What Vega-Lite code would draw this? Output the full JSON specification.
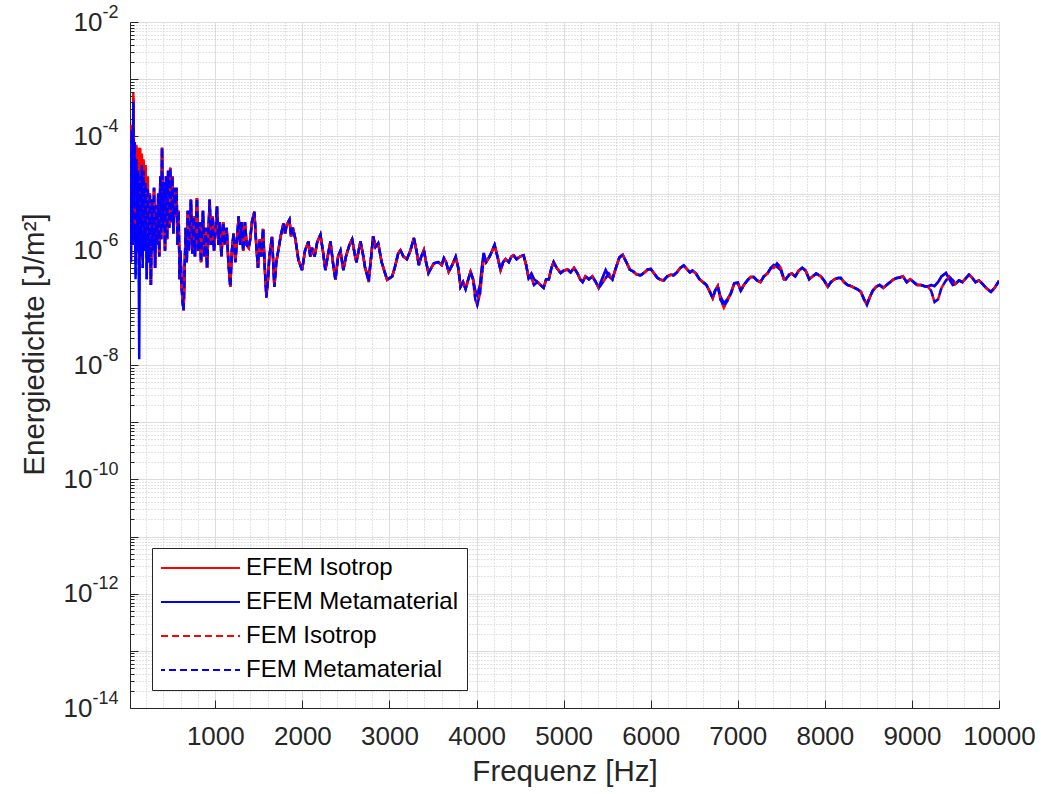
{
"$schema": "https://vega.github.io/schema/vega-lite/v6.json",
"width": 869,
"height": 686,
"autosize": {"type": "none"},
"padding": {"left": 130, "top": 22, "right": 42, "bottom": 86},
"background": "white",
"config": {
  "font": "Liberation Sans",
  "view": {"stroke": "#dddddd"},
  "axis": {"labelFont": "Liberation Sans", "titleFont": "Liberation Sans", "labelColor": "#262626", "titleColor": "#262626", "domainColor": "#262626", "tickColor": "#262626", "titleFontWeight": "normal", "labelFontSize": 26, "titleFontSize": 29.5}
},
"data": {"values": [
{"f":20,"EFEM Isotrop":5.0e-5,"EFEM Metamaterial":5.0e-5,"FEM Isotrop":5.0e-5,"FEM Metamaterial":5.0e-5},
{"f":30,"EFEM Isotrop":6.3e-7,"EFEM Metamaterial":6.3e-7,"FEM Isotrop":6.3e-7,"FEM Metamaterial":6.3e-7},
{"f":40,"EFEM Isotrop":1.58e-4,"EFEM Metamaterial":1.26e-4,"FEM Isotrop":1.58e-4,"FEM Metamaterial":1.26e-4},
{"f":50,"EFEM Isotrop":1.26e-6,"EFEM Metamaterial":1.26e-6,"FEM Isotrop":1.26e-6,"FEM Metamaterial":1.26e-6},
{"f":58,"EFEM Isotrop":5.75e-4,"EFEM Metamaterial":4.47e-4,"FEM Isotrop":5.0e-4,"FEM Metamaterial":4.0e-4},
{"f":66,"EFEM Isotrop":5.0e-5,"EFEM Metamaterial":6.3e-6,"FEM Isotrop":4.5e-5,"FEM Metamaterial":6.3e-6},
{"f":74,"EFEM Isotrop":7.1e-5,"EFEM Metamaterial":7.9e-5,"FEM Isotrop":7.1e-5,"FEM Metamaterial":7.9e-5},
{"f":84,"EFEM Isotrop":2.51e-6,"EFEM Metamaterial":3.16e-7,"FEM Isotrop":2.2e-6,"FEM Metamaterial":3.5e-7},
{"f":94,"EFEM Isotrop":7.1e-5,"EFEM Metamaterial":3.98e-5,"FEM Isotrop":6.8e-5,"FEM Metamaterial":3.98e-5},
{"f":104,"EFEM Isotrop":5.0e-6,"EFEM Metamaterial":1.0e-6,"FEM Isotrop":4.5e-6,"FEM Metamaterial":1.0e-6},
{"f":114,"EFEM Isotrop":6.3e-5,"EFEM Metamaterial":2.51e-5,"FEM Isotrop":6.0e-5,"FEM Metamaterial":2.51e-5},
{"f":126,"EFEM Isotrop":6.3e-7,"EFEM Metamaterial":1.26e-8,"FEM Isotrop":5.0e-7,"FEM Metamaterial":2.0e-7},
{"f":136,"EFEM Isotrop":6.3e-5,"EFEM Metamaterial":2.0e-5,"FEM Isotrop":6.0e-5,"FEM Metamaterial":2.0e-5},
{"f":146,"EFEM Isotrop":3.98e-6,"EFEM Metamaterial":7.9e-7,"FEM Isotrop":3.5e-6,"FEM Metamaterial":7.9e-7},
{"f":156,"EFEM Isotrop":5.0e-5,"EFEM Metamaterial":3.16e-5,"FEM Isotrop":4.8e-5,"FEM Metamaterial":3.16e-5},
{"f":166,"EFEM Isotrop":2.51e-6,"EFEM Metamaterial":5.0e-7,"FEM Isotrop":2.3e-6,"FEM Metamaterial":5.0e-7},
{"f":176,"EFEM Isotrop":3.98e-5,"EFEM Metamaterial":2.51e-5,"FEM Isotrop":3.8e-5,"FEM Metamaterial":2.51e-5},
{"f":188,"EFEM Isotrop":3.16e-6,"EFEM Metamaterial":1.0e-6,"FEM Isotrop":3.0e-6,"FEM Metamaterial":1.0e-6},
{"f":200,"EFEM Isotrop":3.16e-5,"EFEM Metamaterial":1.58e-5,"FEM Isotrop":3.0e-5,"FEM Metamaterial":1.58e-5},
{"f":212,"EFEM Isotrop":1.26e-6,"EFEM Metamaterial":3.16e-7,"FEM Isotrop":1.2e-6,"FEM Metamaterial":3.16e-7},
{"f":224,"EFEM Isotrop":2.0e-5,"EFEM Metamaterial":1.26e-5,"FEM Isotrop":1.9e-5,"FEM Metamaterial":1.26e-5},
{"f":236,"EFEM Isotrop":6.3e-7,"EFEM Metamaterial":6.3e-7,"FEM Isotrop":6.3e-7,"FEM Metamaterial":6.3e-7},
{"f":248,"EFEM Isotrop":1.0e-5,"EFEM Metamaterial":1.0e-5,"FEM Isotrop":1.0e-5,"FEM Metamaterial":1.0e-5},
{"f":260,"EFEM Isotrop":2.51e-7,"EFEM Metamaterial":2.51e-7,"FEM Isotrop":2.51e-7,"FEM Metamaterial":2.51e-7},
{"f":272,"EFEM Isotrop":7.9e-6,"EFEM Metamaterial":7.9e-6,"FEM Isotrop":7.9e-6,"FEM Metamaterial":7.9e-6},
{"f":284,"EFEM Isotrop":1.0e-6,"EFEM Metamaterial":1.0e-6,"FEM Isotrop":1.0e-6,"FEM Metamaterial":1.0e-6},
{"f":296,"EFEM Isotrop":1.26e-5,"EFEM Metamaterial":1.26e-5,"FEM Isotrop":1.26e-5,"FEM Metamaterial":1.26e-5},
{"f":308,"EFEM Isotrop":5.0e-7,"EFEM Metamaterial":5.0e-7,"FEM Isotrop":5.0e-7,"FEM Metamaterial":5.0e-7},
{"f":320,"EFEM Isotrop":6.3e-6,"EFEM Metamaterial":6.3e-6,"FEM Isotrop":6.3e-6,"FEM Metamaterial":6.3e-6},
{"f":332,"EFEM Isotrop":1.26e-6,"EFEM Metamaterial":1.26e-6,"FEM Isotrop":1.26e-6,"FEM Metamaterial":1.26e-6},
{"f":344,"EFEM Isotrop":1.0e-5,"EFEM Metamaterial":1.0e-5,"FEM Isotrop":1.0e-5,"FEM Metamaterial":1.0e-5},
{"f":356,"EFEM Isotrop":7.9e-7,"EFEM Metamaterial":7.9e-7,"FEM Isotrop":7.9e-7,"FEM Metamaterial":7.9e-7},
{"f":368,"EFEM Isotrop":2.0e-5,"EFEM Metamaterial":2.0e-5,"FEM Isotrop":2.0e-5,"FEM Metamaterial":2.0e-5},
{"f":378,"EFEM Isotrop":1.58e-6,"EFEM Metamaterial":1.58e-6,"FEM Isotrop":1.58e-6,"FEM Metamaterial":1.58e-6},
{"f":388,"EFEM Isotrop":6.3e-5,"EFEM Metamaterial":6.3e-5,"FEM Isotrop":6.3e-5,"FEM Metamaterial":6.3e-5},
{"f":398,"EFEM Isotrop":2.51e-6,"EFEM Metamaterial":2.51e-6,"FEM Isotrop":2.51e-6,"FEM Metamaterial":2.51e-6},
{"f":410,"EFEM Isotrop":1.58e-5,"EFEM Metamaterial":1.58e-5,"FEM Isotrop":1.58e-5,"FEM Metamaterial":1.58e-5},
{"f":422,"EFEM Isotrop":1.0e-6,"EFEM Metamaterial":1.0e-6,"FEM Isotrop":1.0e-6,"FEM Metamaterial":1.0e-6},
{"f":434,"EFEM Isotrop":2.0e-5,"EFEM Metamaterial":2.0e-5,"FEM Isotrop":2.0e-5,"FEM Metamaterial":2.0e-5},
{"f":446,"EFEM Isotrop":1.58e-6,"EFEM Metamaterial":1.58e-6,"FEM Isotrop":1.58e-6,"FEM Metamaterial":1.58e-6},
{"f":458,"EFEM Isotrop":2.51e-5,"EFEM Metamaterial":2.51e-5,"FEM Isotrop":2.51e-5,"FEM Metamaterial":2.51e-5},
{"f":470,"EFEM Isotrop":2.51e-6,"EFEM Metamaterial":2.51e-6,"FEM Isotrop":2.51e-6,"FEM Metamaterial":2.51e-6},
{"f":482,"EFEM Isotrop":2.82e-5,"EFEM Metamaterial":2.82e-5,"FEM Isotrop":2.82e-5,"FEM Metamaterial":2.82e-5},
{"f":494,"EFEM Isotrop":3.16e-6,"EFEM Metamaterial":3.16e-6,"FEM Isotrop":3.16e-6,"FEM Metamaterial":3.16e-6},
{"f":506,"EFEM Isotrop":2.0e-5,"EFEM Metamaterial":2.0e-5,"FEM Isotrop":2.0e-5,"FEM Metamaterial":2.0e-5},
{"f":518,"EFEM Isotrop":2.0e-6,"EFEM Metamaterial":2.0e-6,"FEM Isotrop":2.0e-6,"FEM Metamaterial":2.0e-6},
{"f":530,"EFEM Isotrop":1.26e-5,"EFEM Metamaterial":1.26e-5,"FEM Isotrop":1.26e-5,"FEM Metamaterial":1.26e-5},
{"f":542,"EFEM Isotrop":3.98e-6,"EFEM Metamaterial":3.98e-6,"FEM Isotrop":3.98e-6,"FEM Metamaterial":3.98e-6},
{"f":554,"EFEM Isotrop":1.26e-5,"EFEM Metamaterial":1.26e-5,"FEM Isotrop":1.26e-5,"FEM Metamaterial":1.26e-5},
{"f":566,"EFEM Isotrop":1.26e-6,"EFEM Metamaterial":1.26e-6,"FEM Isotrop":1.26e-6,"FEM Metamaterial":1.26e-6},
{"f":578,"EFEM Isotrop":5.0e-6,"EFEM Metamaterial":5.0e-6,"FEM Isotrop":5.0e-6,"FEM Metamaterial":5.0e-6},
{"f":590,"EFEM Isotrop":3.16e-7,"EFEM Metamaterial":3.16e-7,"FEM Isotrop":3.16e-7,"FEM Metamaterial":3.16e-7},
{"f":600,"EFEM Isotrop":1.0e-6,"EFEM Metamaterial":1.0e-6,"FEM Isotrop":1.0e-6,"FEM Metamaterial":1.0e-6},
{"f":612,"EFEM Isotrop":2.51e-7,"EFEM Metamaterial":2.51e-7,"FEM Isotrop":2.51e-7,"FEM Metamaterial":2.51e-7},
{"f":624,"EFEM Isotrop":1.26e-7,"EFEM Metamaterial":1.26e-7,"FEM Isotrop":1.26e-7,"FEM Metamaterial":1.26e-7},
{"f":636,"EFEM Isotrop":9.1e-8,"EFEM Metamaterial":9.1e-8,"FEM Isotrop":9.1e-8,"FEM Metamaterial":9.1e-8},
{"f":648,"EFEM Isotrop":5.0e-7,"EFEM Metamaterial":5.0e-7,"FEM Isotrop":5.0e-7,"FEM Metamaterial":5.0e-7},
{"f":660,"EFEM Isotrop":2.51e-6,"EFEM Metamaterial":2.51e-6,"FEM Isotrop":2.51e-6,"FEM Metamaterial":2.51e-6},
{"f":672,"EFEM Isotrop":6.3e-7,"EFEM Metamaterial":6.3e-7,"FEM Isotrop":6.3e-7,"FEM Metamaterial":6.3e-7},
{"f":684,"EFEM Isotrop":5.0e-6,"EFEM Metamaterial":5.0e-6,"FEM Isotrop":5.0e-6,"FEM Metamaterial":5.0e-6},
{"f":696,"EFEM Isotrop":1.0e-6,"EFEM Metamaterial":1.0e-6,"FEM Isotrop":1.0e-6,"FEM Metamaterial":1.0e-6},
{"f":720,"EFEM Isotrop":7.8e-6,"EFEM Metamaterial":7.8e-6,"FEM Isotrop":7.8e-6,"FEM Metamaterial":7.8e-6},
{"f":736,"EFEM Isotrop":8.9e-7,"EFEM Metamaterial":8.9e-7,"FEM Isotrop":8.9e-7,"FEM Metamaterial":8.9e-7},
{"f":752,"EFEM Isotrop":3.98e-6,"EFEM Metamaterial":3.98e-6,"FEM Isotrop":3.98e-6,"FEM Metamaterial":3.98e-6},
{"f":766,"EFEM Isotrop":7.9e-7,"EFEM Metamaterial":7.9e-7,"FEM Isotrop":7.9e-7,"FEM Metamaterial":7.9e-7},
{"f":789,"EFEM Isotrop":8.3e-6,"EFEM Metamaterial":8.3e-6,"FEM Isotrop":8.3e-6,"FEM Metamaterial":8.3e-6},
{"f":804,"EFEM Isotrop":1.0e-6,"EFEM Metamaterial":1.0e-6,"FEM Isotrop":1.0e-6,"FEM Metamaterial":1.0e-6},
{"f":820,"EFEM Isotrop":3.16e-6,"EFEM Metamaterial":3.16e-6,"FEM Isotrop":3.16e-6,"FEM Metamaterial":3.16e-6},
{"f":836,"EFEM Isotrop":6.3e-7,"EFEM Metamaterial":6.3e-7,"FEM Isotrop":6.3e-7,"FEM Metamaterial":6.3e-7},
{"f":858,"EFEM Isotrop":5.0e-6,"EFEM Metamaterial":5.0e-6,"FEM Isotrop":5.0e-6,"FEM Metamaterial":5.0e-6},
{"f":874,"EFEM Isotrop":7.9e-7,"EFEM Metamaterial":7.9e-7,"FEM Isotrop":7.9e-7,"FEM Metamaterial":7.9e-7},
{"f":890,"EFEM Isotrop":2.51e-6,"EFEM Metamaterial":2.51e-6,"FEM Isotrop":2.51e-6,"FEM Metamaterial":2.51e-6},
{"f":905,"EFEM Isotrop":5.0e-7,"EFEM Metamaterial":5.0e-7,"FEM Isotrop":5.0e-7,"FEM Metamaterial":5.0e-7},
{"f":935,"EFEM Isotrop":7.8e-6,"EFEM Metamaterial":7.8e-6,"FEM Isotrop":7.8e-6,"FEM Metamaterial":7.8e-6},
{"f":950,"EFEM Isotrop":1.26e-6,"EFEM Metamaterial":1.26e-6,"FEM Isotrop":1.26e-6,"FEM Metamaterial":1.26e-6},
{"f":965,"EFEM Isotrop":3.98e-6,"EFEM Metamaterial":3.98e-6,"FEM Isotrop":3.98e-6,"FEM Metamaterial":3.98e-6},
{"f":985,"EFEM Isotrop":1.0e-6,"EFEM Metamaterial":1.0e-6,"FEM Isotrop":1.0e-6,"FEM Metamaterial":1.0e-6},
{"f":1019,"EFEM Isotrop":5.9e-6,"EFEM Metamaterial":5.9e-6,"FEM Isotrop":5.9e-6,"FEM Metamaterial":5.9e-6},
{"f":1035,"EFEM Isotrop":1.26e-6,"EFEM Metamaterial":1.26e-6,"FEM Isotrop":1.26e-6,"FEM Metamaterial":1.26e-6},
{"f":1050,"EFEM Isotrop":3.16e-6,"EFEM Metamaterial":3.16e-6,"FEM Isotrop":3.16e-6,"FEM Metamaterial":3.16e-6},
{"f":1070,"EFEM Isotrop":7.9e-7,"EFEM Metamaterial":7.9e-7,"FEM Isotrop":7.9e-7,"FEM Metamaterial":7.9e-7},
{"f":1090,"EFEM Isotrop":3.16e-6,"EFEM Metamaterial":3.16e-6,"FEM Isotrop":3.16e-6,"FEM Metamaterial":3.16e-6},
{"f":1110,"EFEM Isotrop":1.26e-6,"EFEM Metamaterial":1.26e-6,"FEM Isotrop":1.26e-6,"FEM Metamaterial":1.26e-6},
{"f":1130,"EFEM Isotrop":2.51e-6,"EFEM Metamaterial":2.51e-6,"FEM Isotrop":2.51e-6,"FEM Metamaterial":2.51e-6},
{"f":1150,"EFEM Isotrop":6.3e-7,"EFEM Metamaterial":6.3e-7,"FEM Isotrop":6.3e-7,"FEM Metamaterial":6.3e-7},
{"f":1172,"EFEM Isotrop":2.34e-7,"EFEM Metamaterial":2.34e-7,"FEM Isotrop":2.34e-7,"FEM Metamaterial":2.34e-7},
{"f":1190,"EFEM Isotrop":1.0e-6,"EFEM Metamaterial":1.0e-6,"FEM Isotrop":1.0e-6,"FEM Metamaterial":1.0e-6},
{"f":1210,"EFEM Isotrop":2.0e-6,"EFEM Metamaterial":2.0e-6,"FEM Isotrop":2.0e-6,"FEM Metamaterial":2.0e-6},
{"f":1230,"EFEM Isotrop":6.3e-7,"EFEM Metamaterial":6.3e-7,"FEM Isotrop":6.3e-7,"FEM Metamaterial":6.3e-7},
{"f":1268,"EFEM Isotrop":3.98e-6,"EFEM Metamaterial":3.98e-6,"FEM Isotrop":3.98e-6,"FEM Metamaterial":3.98e-6},
{"f":1285,"EFEM Isotrop":1.26e-6,"EFEM Metamaterial":1.26e-6,"FEM Isotrop":1.26e-6,"FEM Metamaterial":1.26e-6},
{"f":1300,"EFEM Isotrop":3.16e-6,"EFEM Metamaterial":3.16e-6,"FEM Isotrop":3.16e-6,"FEM Metamaterial":3.16e-6},
{"f":1320,"EFEM Isotrop":1.0e-6,"EFEM Metamaterial":1.0e-6,"FEM Isotrop":1.0e-6,"FEM Metamaterial":1.0e-6},
{"f":1340,"EFEM Isotrop":3.16e-6,"EFEM Metamaterial":3.16e-6,"FEM Isotrop":3.16e-6,"FEM Metamaterial":3.16e-6},
{"f":1360,"EFEM Isotrop":1.26e-6,"EFEM Metamaterial":1.26e-6,"FEM Isotrop":1.26e-6,"FEM Metamaterial":1.26e-6},
{"f":1383,"EFEM Isotrop":1.12e-6,"EFEM Metamaterial":1.12e-6,"FEM Isotrop":1.12e-6,"FEM Metamaterial":1.12e-6},
{"f":1400,"EFEM Isotrop":1.55e-6,"EFEM Metamaterial":1.55e-6,"FEM Isotrop":1.55e-6,"FEM Metamaterial":1.55e-6},
{"f":1420,"EFEM Isotrop":3.16e-6,"EFEM Metamaterial":3.16e-6,"FEM Isotrop":3.16e-6,"FEM Metamaterial":3.16e-6},
{"f":1448,"EFEM Isotrop":4.8e-6,"EFEM Metamaterial":4.8e-6,"FEM Isotrop":4.8e-6,"FEM Metamaterial":4.8e-6},
{"f":1470,"EFEM Isotrop":1.26e-6,"EFEM Metamaterial":1.26e-6,"FEM Isotrop":1.26e-6,"FEM Metamaterial":1.26e-6},
{"f":1490,"EFEM Isotrop":5.0e-7,"EFEM Metamaterial":5.0e-7,"FEM Isotrop":5.0e-7,"FEM Metamaterial":5.0e-7},
{"f":1510,"EFEM Isotrop":1.58e-6,"EFEM Metamaterial":1.58e-6,"FEM Isotrop":1.58e-6,"FEM Metamaterial":1.58e-6},
{"f":1530,"EFEM Isotrop":7.9e-7,"EFEM Metamaterial":7.9e-7,"FEM Isotrop":7.9e-7,"FEM Metamaterial":7.9e-7},
{"f":1548,"EFEM Isotrop":2.4e-6,"EFEM Metamaterial":2.4e-6,"FEM Isotrop":2.4e-6,"FEM Metamaterial":2.4e-6},
{"f":1568,"EFEM Isotrop":5.0e-7,"EFEM Metamaterial":5.0e-7,"FEM Isotrop":5.0e-7,"FEM Metamaterial":5.0e-7},
{"f":1586,"EFEM Isotrop":1.66e-7,"EFEM Metamaterial":1.66e-7,"FEM Isotrop":1.51e-7,"FEM Metamaterial":1.51e-7},
{"f":1605,"EFEM Isotrop":3.16e-7,"EFEM Metamaterial":3.16e-7,"FEM Isotrop":3.16e-7,"FEM Metamaterial":3.16e-7},
{"f":1620,"EFEM Isotrop":7.9e-7,"EFEM Metamaterial":7.9e-7,"FEM Isotrop":7.9e-7,"FEM Metamaterial":7.9e-7},
{"f":1651,"EFEM Isotrop":1.74e-6,"EFEM Metamaterial":1.74e-6,"FEM Isotrop":1.74e-6,"FEM Metamaterial":1.74e-6},
{"f":1678,"EFEM Isotrop":2.34e-7,"EFEM Metamaterial":2.34e-7,"FEM Isotrop":2.34e-7,"FEM Metamaterial":2.34e-7},
{"f":1700,"EFEM Isotrop":6.3e-7,"EFEM Metamaterial":6.3e-7,"FEM Isotrop":6.3e-7,"FEM Metamaterial":6.3e-7},
{"f":1724,"EFEM Isotrop":1.02e-6,"EFEM Metamaterial":1.02e-6,"FEM Isotrop":1.02e-6,"FEM Metamaterial":1.02e-6},
{"f":1750,"EFEM Isotrop":1.78e-6,"EFEM Metamaterial":1.78e-6,"FEM Isotrop":1.78e-6,"FEM Metamaterial":1.78e-6},
{"f":1782,"EFEM Isotrop":3.0e-6,"EFEM Metamaterial":3.0e-6,"FEM Isotrop":3.0e-6,"FEM Metamaterial":3.0e-6},
{"f":1800,"EFEM Isotrop":2.0e-6,"EFEM Metamaterial":2.0e-6,"FEM Isotrop":2.0e-6,"FEM Metamaterial":2.0e-6},
{"f":1820,"EFEM Isotrop":2.82e-6,"EFEM Metamaterial":2.82e-6,"FEM Isotrop":2.82e-6,"FEM Metamaterial":2.82e-6},
{"f":1851,"EFEM Isotrop":3.47e-6,"EFEM Metamaterial":3.47e-6,"FEM Isotrop":3.47e-6,"FEM Metamaterial":3.47e-6},
{"f":1870,"EFEM Isotrop":1.78e-6,"EFEM Metamaterial":1.78e-6,"FEM Isotrop":1.78e-6,"FEM Metamaterial":1.78e-6},
{"f":1890,"EFEM Isotrop":2.51e-6,"EFEM Metamaterial":2.51e-6,"FEM Isotrop":2.51e-6,"FEM Metamaterial":2.51e-6},
{"f":1920,"EFEM Isotrop":1.58e-6,"EFEM Metamaterial":1.58e-6,"FEM Isotrop":1.58e-6,"FEM Metamaterial":1.58e-6},
{"f":1954,"EFEM Isotrop":6.9e-7,"EFEM Metamaterial":6.9e-7,"FEM Isotrop":6.9e-7,"FEM Metamaterial":6.9e-7},
{"f":1996,"EFEM Isotrop":4.57e-7,"EFEM Metamaterial":4.57e-7,"FEM Isotrop":4.57e-7,"FEM Metamaterial":4.57e-7},
{"f":2030,"EFEM Isotrop":1.0e-6,"EFEM Metamaterial":1.0e-6,"FEM Isotrop":1.0e-6,"FEM Metamaterial":1.0e-6},
{"f":2069,"EFEM Isotrop":1.45e-6,"EFEM Metamaterial":1.45e-6,"FEM Isotrop":1.45e-6,"FEM Metamaterial":1.45e-6},
{"f":2090,"EFEM Isotrop":7.9e-7,"EFEM Metamaterial":7.9e-7,"FEM Isotrop":7.9e-7,"FEM Metamaterial":7.9e-7},
{"f":2110,"EFEM Isotrop":1.12e-6,"EFEM Metamaterial":1.12e-6,"FEM Isotrop":1.12e-6,"FEM Metamaterial":1.12e-6},
{"f":2140,"EFEM Isotrop":7.9e-7,"EFEM Metamaterial":7.9e-7,"FEM Isotrop":7.9e-7,"FEM Metamaterial":7.9e-7},
{"f":2170,"EFEM Isotrop":1.41e-6,"EFEM Metamaterial":1.41e-6,"FEM Isotrop":1.41e-6,"FEM Metamaterial":1.41e-6},
{"f":2207,"EFEM Isotrop":1.9e-6,"EFEM Metamaterial":1.9e-6,"FEM Isotrop":1.9e-6,"FEM Metamaterial":1.9e-6},
{"f":2235,"EFEM Isotrop":1.0e-6,"EFEM Metamaterial":1.0e-6,"FEM Isotrop":1.0e-6,"FEM Metamaterial":1.0e-6},
{"f":2264,"EFEM Isotrop":4.57e-7,"EFEM Metamaterial":4.57e-7,"FEM Isotrop":4.57e-7,"FEM Metamaterial":4.57e-7},
{"f":2290,"EFEM Isotrop":7.9e-7,"EFEM Metamaterial":7.9e-7,"FEM Isotrop":7.9e-7,"FEM Metamaterial":7.9e-7},
{"f":2322,"EFEM Isotrop":1.45e-6,"EFEM Metamaterial":1.45e-6,"FEM Isotrop":1.45e-6,"FEM Metamaterial":1.45e-6},
{"f":2350,"EFEM Isotrop":6.3e-7,"EFEM Metamaterial":6.3e-7,"FEM Isotrop":6.3e-7,"FEM Metamaterial":6.3e-7},
{"f":2379,"EFEM Isotrop":3.09e-7,"EFEM Metamaterial":3.09e-7,"FEM Isotrop":3.09e-7,"FEM Metamaterial":3.09e-7},
{"f":2410,"EFEM Isotrop":7.9e-7,"EFEM Metamaterial":7.9e-7,"FEM Isotrop":7.9e-7,"FEM Metamaterial":7.9e-7},
{"f":2437,"EFEM Isotrop":1.0e-6,"EFEM Metamaterial":1.0e-6,"FEM Isotrop":1.0e-6,"FEM Metamaterial":1.0e-6},
{"f":2470,"EFEM Isotrop":4.57e-7,"EFEM Metamaterial":4.57e-7,"FEM Isotrop":4.57e-7,"FEM Metamaterial":4.57e-7},
{"f":2500,"EFEM Isotrop":7.9e-7,"EFEM Metamaterial":7.9e-7,"FEM Isotrop":7.9e-7,"FEM Metamaterial":7.9e-7},
{"f":2540,"EFEM Isotrop":1.26e-6,"EFEM Metamaterial":1.26e-6,"FEM Isotrop":1.26e-6,"FEM Metamaterial":1.26e-6},
{"f":2571,"EFEM Isotrop":1.58e-6,"EFEM Metamaterial":1.58e-6,"FEM Isotrop":1.58e-6,"FEM Metamaterial":1.58e-6},
{"f":2600,"EFEM Isotrop":8.9e-7,"EFEM Metamaterial":8.9e-7,"FEM Isotrop":8.9e-7,"FEM Metamaterial":8.9e-7},
{"f":2620,"EFEM Isotrop":6.3e-7,"EFEM Metamaterial":6.3e-7,"FEM Isotrop":6.3e-7,"FEM Metamaterial":6.3e-7},
{"f":2667,"EFEM Isotrop":1.45e-6,"EFEM Metamaterial":1.45e-6,"FEM Isotrop":1.45e-6,"FEM Metamaterial":1.45e-6},
{"f":2700,"EFEM Isotrop":7.9e-7,"EFEM Metamaterial":7.9e-7,"FEM Isotrop":7.9e-7,"FEM Metamaterial":7.9e-7},
{"f":2720,"EFEM Isotrop":5.0e-7,"EFEM Metamaterial":5.0e-7,"FEM Isotrop":5.0e-7,"FEM Metamaterial":5.0e-7},
{"f":2762,"EFEM Isotrop":3.31e-7,"EFEM Metamaterial":3.31e-7,"FEM Isotrop":2.82e-7,"FEM Metamaterial":2.82e-7},
{"f":2790,"EFEM Isotrop":7.9e-7,"EFEM Metamaterial":7.9e-7,"FEM Isotrop":7.9e-7,"FEM Metamaterial":7.9e-7},
{"f":2812,"EFEM Isotrop":1.78e-6,"EFEM Metamaterial":1.78e-6,"FEM Isotrop":1.78e-6,"FEM Metamaterial":1.78e-6},
{"f":2840,"EFEM Isotrop":1.17e-6,"EFEM Metamaterial":1.17e-6,"FEM Isotrop":1.17e-6,"FEM Metamaterial":1.17e-6},
{"f":2870,"EFEM Isotrop":1.35e-6,"EFEM Metamaterial":1.35e-6,"FEM Isotrop":1.35e-6,"FEM Metamaterial":1.35e-6},
{"f":2910,"EFEM Isotrop":6.3e-7,"EFEM Metamaterial":6.3e-7,"FEM Isotrop":6.3e-7,"FEM Metamaterial":6.3e-7},
{"f":2940,"EFEM Isotrop":4.47e-7,"EFEM Metamaterial":4.47e-7,"FEM Isotrop":4.47e-7,"FEM Metamaterial":4.47e-7},
{"f":2973,"EFEM Isotrop":3.09e-7,"EFEM Metamaterial":3.09e-7,"FEM Isotrop":3.09e-7,"FEM Metamaterial":3.09e-7},
{"f":3031,"EFEM Isotrop":3.55e-7,"EFEM Metamaterial":3.55e-7,"FEM Isotrop":3.55e-7,"FEM Metamaterial":3.55e-7},
{"f":3060,"EFEM Isotrop":5.0e-7,"EFEM Metamaterial":5.0e-7,"FEM Isotrop":5.0e-7,"FEM Metamaterial":5.0e-7},
{"f":3100,"EFEM Isotrop":8.9e-7,"EFEM Metamaterial":8.9e-7,"FEM Isotrop":8.9e-7,"FEM Metamaterial":8.9e-7},
{"f":3126,"EFEM Isotrop":1.02e-6,"EFEM Metamaterial":1.02e-6,"FEM Isotrop":1.02e-6,"FEM Metamaterial":1.02e-6},
{"f":3160,"EFEM Isotrop":7.9e-7,"EFEM Metamaterial":7.9e-7,"FEM Isotrop":7.9e-7,"FEM Metamaterial":7.9e-7},
{"f":3200,"EFEM Isotrop":7.1e-7,"EFEM Metamaterial":7.1e-7,"FEM Isotrop":7.1e-7,"FEM Metamaterial":7.1e-7},
{"f":3240,"EFEM Isotrop":1.0e-6,"EFEM Metamaterial":1.0e-6,"FEM Isotrop":1.0e-6,"FEM Metamaterial":1.0e-6},
{"f":3280,"EFEM Isotrop":1.66e-6,"EFEM Metamaterial":1.66e-6,"FEM Isotrop":1.66e-6,"FEM Metamaterial":1.66e-6},
{"f":3310,"EFEM Isotrop":1.0e-6,"EFEM Metamaterial":1.0e-6,"FEM Isotrop":1.0e-6,"FEM Metamaterial":1.0e-6},
{"f":3337,"EFEM Isotrop":5.6e-7,"EFEM Metamaterial":5.6e-7,"FEM Isotrop":5.6e-7,"FEM Metamaterial":5.6e-7},
{"f":3365,"EFEM Isotrop":7.9e-7,"EFEM Metamaterial":7.9e-7,"FEM Isotrop":7.9e-7,"FEM Metamaterial":7.9e-7},
{"f":3395,"EFEM Isotrop":1.02e-6,"EFEM Metamaterial":1.02e-6,"FEM Isotrop":1.02e-6,"FEM Metamaterial":1.02e-6},
{"f":3420,"EFEM Isotrop":6.3e-7,"EFEM Metamaterial":6.3e-7,"FEM Isotrop":6.3e-7,"FEM Metamaterial":6.3e-7},
{"f":3448,"EFEM Isotrop":4.07e-7,"EFEM Metamaterial":4.07e-7,"FEM Isotrop":4.07e-7,"FEM Metamaterial":4.07e-7},
{"f":3480,"EFEM Isotrop":5.0e-7,"EFEM Metamaterial":5.0e-7,"FEM Isotrop":5.0e-7,"FEM Metamaterial":5.0e-7},
{"f":3510,"EFEM Isotrop":6.0e-7,"EFEM Metamaterial":6.0e-7,"FEM Isotrop":6.0e-7,"FEM Metamaterial":6.0e-7},
{"f":3560,"EFEM Isotrop":6.3e-7,"EFEM Metamaterial":6.3e-7,"FEM Isotrop":6.3e-7,"FEM Metamaterial":6.3e-7},
{"f":3600,"EFEM Isotrop":5.6e-7,"EFEM Metamaterial":5.6e-7,"FEM Isotrop":5.6e-7,"FEM Metamaterial":5.6e-7},
{"f":3625,"EFEM Isotrop":7.4e-7,"EFEM Metamaterial":7.4e-7,"FEM Isotrop":7.4e-7,"FEM Metamaterial":7.4e-7},
{"f":3650,"EFEM Isotrop":6.3e-7,"EFEM Metamaterial":6.3e-7,"FEM Isotrop":6.3e-7,"FEM Metamaterial":6.3e-7},
{"f":3680,"EFEM Isotrop":4.27e-7,"EFEM Metamaterial":4.27e-7,"FEM Isotrop":4.27e-7,"FEM Metamaterial":4.27e-7},
{"f":3720,"EFEM Isotrop":5.6e-7,"EFEM Metamaterial":5.6e-7,"FEM Isotrop":5.6e-7,"FEM Metamaterial":5.6e-7},
{"f":3760,"EFEM Isotrop":7.8e-7,"EFEM Metamaterial":7.8e-7,"FEM Isotrop":7.8e-7,"FEM Metamaterial":7.8e-7},
{"f":3790,"EFEM Isotrop":5.0e-7,"EFEM Metamaterial":5.0e-7,"FEM Isotrop":5.0e-7,"FEM Metamaterial":5.0e-7},
{"f":3816,"EFEM Isotrop":2.34e-7,"EFEM Metamaterial":2.34e-7,"FEM Isotrop":2.34e-7,"FEM Metamaterial":2.34e-7},
{"f":3845,"EFEM Isotrop":2.82e-7,"EFEM Metamaterial":2.82e-7,"FEM Isotrop":2.82e-7,"FEM Metamaterial":2.82e-7},
{"f":3874,"EFEM Isotrop":2.14e-7,"EFEM Metamaterial":2.14e-7,"FEM Isotrop":2.14e-7,"FEM Metamaterial":2.14e-7},
{"f":3905,"EFEM Isotrop":3.16e-7,"EFEM Metamaterial":3.16e-7,"FEM Isotrop":3.16e-7,"FEM Metamaterial":3.16e-7},
{"f":3931,"EFEM Isotrop":4.27e-7,"EFEM Metamaterial":4.27e-7,"FEM Isotrop":4.27e-7,"FEM Metamaterial":4.27e-7},
{"f":3960,"EFEM Isotrop":3.16e-7,"EFEM Metamaterial":3.16e-7,"FEM Isotrop":3.16e-7,"FEM Metamaterial":3.16e-7},
{"f":3985,"EFEM Isotrop":2.0e-7,"EFEM Metamaterial":2.0e-7,"FEM Isotrop":1.41e-7,"FEM Metamaterial":1.41e-7},
{"f":4008,"EFEM Isotrop":1.66e-7,"EFEM Metamaterial":1.66e-7,"FEM Isotrop":1.12e-7,"FEM Metamaterial":1.12e-7},
{"f":4040,"EFEM Isotrop":2.51e-7,"EFEM Metamaterial":2.51e-7,"FEM Isotrop":1.78e-7,"FEM Metamaterial":1.78e-7},
{"f":4060,"EFEM Isotrop":5.0e-7,"EFEM Metamaterial":5.0e-7,"FEM Isotrop":3.55e-7,"FEM Metamaterial":3.55e-7},
{"f":4082,"EFEM Isotrop":9.1e-7,"EFEM Metamaterial":9.1e-7,"FEM Isotrop":7.1e-7,"FEM Metamaterial":7.1e-7},
{"f":4110,"EFEM Isotrop":6.3e-7,"EFEM Metamaterial":6.3e-7,"FEM Isotrop":6.3e-7,"FEM Metamaterial":6.3e-7},
{"f":4150,"EFEM Isotrop":7.9e-7,"EFEM Metamaterial":7.9e-7,"FEM Isotrop":7.9e-7,"FEM Metamaterial":7.9e-7},
{"f":4180,"EFEM Isotrop":1.0e-6,"EFEM Metamaterial":1.0e-6,"FEM Isotrop":1.0e-6,"FEM Metamaterial":1.0e-6},
{"f":4207,"EFEM Isotrop":1.26e-6,"EFEM Metamaterial":1.26e-6,"FEM Isotrop":1.26e-6,"FEM Metamaterial":1.26e-6},
{"f":4240,"EFEM Isotrop":7.9e-7,"EFEM Metamaterial":7.9e-7,"FEM Isotrop":7.9e-7,"FEM Metamaterial":7.9e-7},
{"f":4276,"EFEM Isotrop":4.57e-7,"EFEM Metamaterial":4.57e-7,"FEM Isotrop":4.57e-7,"FEM Metamaterial":4.57e-7},
{"f":4305,"EFEM Isotrop":6.3e-7,"EFEM Metamaterial":6.3e-7,"FEM Isotrop":6.3e-7,"FEM Metamaterial":6.3e-7},
{"f":4333,"EFEM Isotrop":7.1e-7,"EFEM Metamaterial":7.1e-7,"FEM Isotrop":7.1e-7,"FEM Metamaterial":7.1e-7},
{"f":4370,"EFEM Isotrop":6.3e-7,"EFEM Metamaterial":6.3e-7,"FEM Isotrop":6.3e-7,"FEM Metamaterial":6.3e-7},
{"f":4400,"EFEM Isotrop":7.9e-7,"EFEM Metamaterial":7.9e-7,"FEM Isotrop":7.9e-7,"FEM Metamaterial":7.9e-7},
{"f":4425,"EFEM Isotrop":8.3e-7,"EFEM Metamaterial":8.3e-7,"FEM Isotrop":8.3e-7,"FEM Metamaterial":8.3e-7},
{"f":4460,"EFEM Isotrop":7.1e-7,"EFEM Metamaterial":7.1e-7,"FEM Isotrop":7.1e-7,"FEM Metamaterial":7.1e-7},
{"f":4500,"EFEM Isotrop":7.9e-7,"EFEM Metamaterial":7.9e-7,"FEM Isotrop":7.9e-7,"FEM Metamaterial":7.9e-7},
{"f":4540,"EFEM Isotrop":8.3e-7,"EFEM Metamaterial":8.3e-7,"FEM Isotrop":8.3e-7,"FEM Metamaterial":8.3e-7},
{"f":4570,"EFEM Isotrop":5.6e-7,"EFEM Metamaterial":5.6e-7,"FEM Isotrop":5.6e-7,"FEM Metamaterial":5.6e-7},
{"f":4598,"EFEM Isotrop":3.31e-7,"EFEM Metamaterial":3.31e-7,"FEM Isotrop":3.31e-7,"FEM Metamaterial":3.31e-7},
{"f":4630,"EFEM Isotrop":3.98e-7,"EFEM Metamaterial":3.98e-7,"FEM Isotrop":3.31e-7,"FEM Metamaterial":3.31e-7},
{"f":4660,"EFEM Isotrop":3.16e-7,"EFEM Metamaterial":3.16e-7,"FEM Isotrop":2.51e-7,"FEM Metamaterial":2.51e-7},
{"f":4701,"EFEM Isotrop":2.82e-7,"EFEM Metamaterial":2.82e-7,"FEM Isotrop":2.82e-7,"FEM Metamaterial":2.82e-7},
{"f":4735,"EFEM Isotrop":2.51e-7,"EFEM Metamaterial":2.51e-7,"FEM Isotrop":2.51e-7,"FEM Metamaterial":2.51e-7},
{"f":4770,"EFEM Isotrop":2.24e-7,"EFEM Metamaterial":2.24e-7,"FEM Isotrop":2.24e-7,"FEM Metamaterial":2.24e-7},
{"f":4800,"EFEM Isotrop":3.16e-7,"EFEM Metamaterial":3.16e-7,"FEM Isotrop":3.16e-7,"FEM Metamaterial":3.16e-7},
{"f":4830,"EFEM Isotrop":3.16e-7,"EFEM Metamaterial":3.16e-7,"FEM Isotrop":3.16e-7,"FEM Metamaterial":3.16e-7},
{"f":4860,"EFEM Isotrop":5.0e-7,"EFEM Metamaterial":5.0e-7,"FEM Isotrop":5.0e-7,"FEM Metamaterial":5.0e-7},
{"f":4885,"EFEM Isotrop":6.3e-7,"EFEM Metamaterial":6.3e-7,"FEM Isotrop":6.3e-7,"FEM Metamaterial":6.3e-7},
{"f":4920,"EFEM Isotrop":5.0e-7,"EFEM Metamaterial":5.0e-7,"FEM Isotrop":5.0e-7,"FEM Metamaterial":5.0e-7},
{"f":4966,"EFEM Isotrop":4.07e-7,"EFEM Metamaterial":4.07e-7,"FEM Isotrop":4.07e-7,"FEM Metamaterial":4.07e-7},
{"f":5000,"EFEM Isotrop":4.47e-7,"EFEM Metamaterial":4.47e-7,"FEM Isotrop":4.47e-7,"FEM Metamaterial":4.47e-7},
{"f":5046,"EFEM Isotrop":4.68e-7,"EFEM Metamaterial":4.68e-7,"FEM Isotrop":4.68e-7,"FEM Metamaterial":4.68e-7},
{"f":5080,"EFEM Isotrop":4.17e-7,"EFEM Metamaterial":4.17e-7,"FEM Isotrop":4.17e-7,"FEM Metamaterial":4.17e-7},
{"f":5120,"EFEM Isotrop":5.0e-7,"EFEM Metamaterial":5.0e-7,"FEM Isotrop":5.0e-7,"FEM Metamaterial":5.0e-7},
{"f":5160,"EFEM Isotrop":3.98e-7,"EFEM Metamaterial":3.98e-7,"FEM Isotrop":3.98e-7,"FEM Metamaterial":3.98e-7},
{"f":5190,"EFEM Isotrop":3.16e-7,"EFEM Metamaterial":3.16e-7,"FEM Isotrop":3.16e-7,"FEM Metamaterial":3.16e-7},
{"f":5218,"EFEM Isotrop":2.82e-7,"EFEM Metamaterial":2.82e-7,"FEM Isotrop":2.82e-7,"FEM Metamaterial":2.82e-7},
{"f":5250,"EFEM Isotrop":3.55e-7,"EFEM Metamaterial":3.55e-7,"FEM Isotrop":3.55e-7,"FEM Metamaterial":3.55e-7},
{"f":5290,"EFEM Isotrop":3.16e-7,"EFEM Metamaterial":3.16e-7,"FEM Isotrop":3.16e-7,"FEM Metamaterial":3.16e-7},
{"f":5330,"EFEM Isotrop":3.55e-7,"EFEM Metamaterial":3.55e-7,"FEM Isotrop":3.55e-7,"FEM Metamaterial":3.55e-7},
{"f":5370,"EFEM Isotrop":2.82e-7,"EFEM Metamaterial":2.82e-7,"FEM Isotrop":2.82e-7,"FEM Metamaterial":2.82e-7},
{"f":5402,"EFEM Isotrop":2.24e-7,"EFEM Metamaterial":2.24e-7,"FEM Isotrop":2.24e-7,"FEM Metamaterial":2.24e-7},
{"f":5440,"EFEM Isotrop":3.16e-7,"EFEM Metamaterial":3.16e-7,"FEM Isotrop":2.63e-7,"FEM Metamaterial":2.63e-7},
{"f":5483,"EFEM Isotrop":4.57e-7,"EFEM Metamaterial":4.57e-7,"FEM Isotrop":3.31e-7,"FEM Metamaterial":3.31e-7},
{"f":5520,"EFEM Isotrop":3.55e-7,"EFEM Metamaterial":3.55e-7,"FEM Isotrop":3.98e-7,"FEM Metamaterial":3.98e-7},
{"f":5560,"EFEM Isotrop":3.16e-7,"EFEM Metamaterial":3.16e-7,"FEM Isotrop":3.16e-7,"FEM Metamaterial":3.16e-7},
{"f":5600,"EFEM Isotrop":5.0e-7,"EFEM Metamaterial":5.0e-7,"FEM Isotrop":5.0e-7,"FEM Metamaterial":5.0e-7},
{"f":5640,"EFEM Isotrop":7.6e-7,"EFEM Metamaterial":7.6e-7,"FEM Isotrop":7.6e-7,"FEM Metamaterial":7.6e-7},
{"f":5678,"EFEM Isotrop":8.5e-7,"EFEM Metamaterial":8.5e-7,"FEM Isotrop":8.5e-7,"FEM Metamaterial":8.5e-7},
{"f":5720,"EFEM Isotrop":6.3e-7,"EFEM Metamaterial":6.3e-7,"FEM Isotrop":6.3e-7,"FEM Metamaterial":6.3e-7},
{"f":5760,"EFEM Isotrop":4.68e-7,"EFEM Metamaterial":4.68e-7,"FEM Isotrop":4.68e-7,"FEM Metamaterial":4.68e-7},
{"f":5805,"EFEM Isotrop":4.27e-7,"EFEM Metamaterial":4.27e-7,"FEM Isotrop":4.27e-7,"FEM Metamaterial":4.27e-7},
{"f":5840,"EFEM Isotrop":3.8e-7,"EFEM Metamaterial":3.8e-7,"FEM Isotrop":3.8e-7,"FEM Metamaterial":3.8e-7},
{"f":5885,"EFEM Isotrop":3.72e-7,"EFEM Metamaterial":3.72e-7,"FEM Isotrop":3.72e-7,"FEM Metamaterial":3.72e-7},
{"f":5930,"EFEM Isotrop":4.17e-7,"EFEM Metamaterial":4.17e-7,"FEM Isotrop":4.17e-7,"FEM Metamaterial":4.17e-7},
{"f":5965,"EFEM Isotrop":4.68e-7,"EFEM Metamaterial":4.68e-7,"FEM Isotrop":4.68e-7,"FEM Metamaterial":4.68e-7},
{"f":6000,"EFEM Isotrop":4.79e-7,"EFEM Metamaterial":4.79e-7,"FEM Isotrop":4.79e-7,"FEM Metamaterial":4.79e-7},
{"f":6040,"EFEM Isotrop":3.98e-7,"EFEM Metamaterial":3.98e-7,"FEM Isotrop":3.98e-7,"FEM Metamaterial":3.98e-7},
{"f":6080,"EFEM Isotrop":3.31e-7,"EFEM Metamaterial":3.31e-7,"FEM Isotrop":3.31e-7,"FEM Metamaterial":3.31e-7},
{"f":6115,"EFEM Isotrop":3.09e-7,"EFEM Metamaterial":3.09e-7,"FEM Isotrop":3.09e-7,"FEM Metamaterial":3.09e-7},
{"f":6150,"EFEM Isotrop":3.02e-7,"EFEM Metamaterial":3.02e-7,"FEM Isotrop":3.02e-7,"FEM Metamaterial":3.02e-7},
{"f":6190,"EFEM Isotrop":3.55e-7,"EFEM Metamaterial":3.55e-7,"FEM Isotrop":3.55e-7,"FEM Metamaterial":3.55e-7},
{"f":6230,"EFEM Isotrop":3.8e-7,"EFEM Metamaterial":3.8e-7,"FEM Isotrop":3.8e-7,"FEM Metamaterial":3.8e-7},
{"f":6264,"EFEM Isotrop":3.72e-7,"EFEM Metamaterial":3.72e-7,"FEM Isotrop":3.72e-7,"FEM Metamaterial":3.72e-7},
{"f":6300,"EFEM Isotrop":4.17e-7,"EFEM Metamaterial":4.17e-7,"FEM Isotrop":4.17e-7,"FEM Metamaterial":4.17e-7},
{"f":6340,"EFEM Isotrop":5.0e-7,"EFEM Metamaterial":5.0e-7,"FEM Isotrop":5.0e-7,"FEM Metamaterial":5.0e-7},
{"f":6379,"EFEM Isotrop":5.5e-7,"EFEM Metamaterial":5.5e-7,"FEM Isotrop":5.5e-7,"FEM Metamaterial":5.5e-7},
{"f":6420,"EFEM Isotrop":4.68e-7,"EFEM Metamaterial":4.68e-7,"FEM Isotrop":4.68e-7,"FEM Metamaterial":4.68e-7},
{"f":6450,"EFEM Isotrop":4.17e-7,"EFEM Metamaterial":4.17e-7,"FEM Isotrop":4.17e-7,"FEM Metamaterial":4.17e-7},
{"f":6480,"EFEM Isotrop":4.47e-7,"EFEM Metamaterial":4.47e-7,"FEM Isotrop":4.47e-7,"FEM Metamaterial":4.47e-7},
{"f":6520,"EFEM Isotrop":3.98e-7,"EFEM Metamaterial":3.98e-7,"FEM Isotrop":3.98e-7,"FEM Metamaterial":3.98e-7},
{"f":6560,"EFEM Isotrop":3.16e-7,"EFEM Metamaterial":3.16e-7,"FEM Isotrop":3.16e-7,"FEM Metamaterial":3.16e-7},
{"f":6600,"EFEM Isotrop":2.82e-7,"EFEM Metamaterial":2.82e-7,"FEM Isotrop":2.82e-7,"FEM Metamaterial":2.82e-7},
{"f":6640,"EFEM Isotrop":2.51e-7,"EFEM Metamaterial":2.51e-7,"FEM Isotrop":2.51e-7,"FEM Metamaterial":2.51e-7},
{"f":6680,"EFEM Isotrop":1.9e-7,"EFEM Metamaterial":1.9e-7,"FEM Isotrop":1.9e-7,"FEM Metamaterial":1.9e-7},
{"f":6712,"EFEM Isotrop":1.48e-7,"EFEM Metamaterial":1.48e-7,"FEM Isotrop":1.48e-7,"FEM Metamaterial":1.48e-7},
{"f":6740,"EFEM Isotrop":2.0e-7,"EFEM Metamaterial":2.0e-7,"FEM Isotrop":2.0e-7,"FEM Metamaterial":2.0e-7},
{"f":6770,"EFEM Isotrop":2.4e-7,"EFEM Metamaterial":2.4e-7,"FEM Isotrop":2.4e-7,"FEM Metamaterial":2.4e-7},
{"f":6800,"EFEM Isotrop":1.58e-7,"EFEM Metamaterial":1.58e-7,"FEM Isotrop":1.41e-7,"FEM Metamaterial":1.41e-7},
{"f":6840,"EFEM Isotrop":1.2e-7,"EFEM Metamaterial":1.2e-7,"FEM Isotrop":1.0e-7,"FEM Metamaterial":1.05e-7},
{"f":6880,"EFEM Isotrop":1.41e-7,"EFEM Metamaterial":1.41e-7,"FEM Isotrop":1.32e-7,"FEM Metamaterial":1.32e-7},
{"f":6920,"EFEM Isotrop":1.78e-7,"EFEM Metamaterial":1.78e-7,"FEM Isotrop":1.78e-7,"FEM Metamaterial":1.78e-7},
{"f":6960,"EFEM Isotrop":2.69e-7,"EFEM Metamaterial":2.69e-7,"FEM Isotrop":2.69e-7,"FEM Metamaterial":2.69e-7},
{"f":7000,"EFEM Isotrop":2.75e-7,"EFEM Metamaterial":2.75e-7,"FEM Isotrop":2.75e-7,"FEM Metamaterial":2.75e-7},
{"f":7034,"EFEM Isotrop":2.0e-7,"EFEM Metamaterial":2.0e-7,"FEM Isotrop":2.0e-7,"FEM Metamaterial":2.0e-7},
{"f":7070,"EFEM Isotrop":2.51e-7,"EFEM Metamaterial":2.51e-7,"FEM Isotrop":2.51e-7,"FEM Metamaterial":2.51e-7},
{"f":7110,"EFEM Isotrop":3.02e-7,"EFEM Metamaterial":3.02e-7,"FEM Isotrop":3.02e-7,"FEM Metamaterial":3.02e-7},
{"f":7150,"EFEM Isotrop":3.47e-7,"EFEM Metamaterial":3.47e-7,"FEM Isotrop":3.47e-7,"FEM Metamaterial":3.47e-7},
{"f":7184,"EFEM Isotrop":3.47e-7,"EFEM Metamaterial":3.47e-7,"FEM Isotrop":3.47e-7,"FEM Metamaterial":3.47e-7},
{"f":7220,"EFEM Isotrop":3.02e-7,"EFEM Metamaterial":3.02e-7,"FEM Isotrop":3.02e-7,"FEM Metamaterial":3.02e-7},
{"f":7260,"EFEM Isotrop":2.82e-7,"EFEM Metamaterial":2.82e-7,"FEM Isotrop":2.82e-7,"FEM Metamaterial":2.82e-7},
{"f":7300,"EFEM Isotrop":3.55e-7,"EFEM Metamaterial":3.55e-7,"FEM Isotrop":3.55e-7,"FEM Metamaterial":3.55e-7},
{"f":7340,"EFEM Isotrop":3.98e-7,"EFEM Metamaterial":3.98e-7,"FEM Isotrop":3.98e-7,"FEM Metamaterial":3.98e-7},
{"f":7380,"EFEM Isotrop":5.0e-7,"EFEM Metamaterial":5.0e-7,"FEM Isotrop":5.0e-7,"FEM Metamaterial":5.0e-7},
{"f":7414,"EFEM Isotrop":5.6e-7,"EFEM Metamaterial":5.6e-7,"FEM Isotrop":5.0e-7,"FEM Metamaterial":5.0e-7},
{"f":7450,"EFEM Isotrop":5.25e-7,"EFEM Metamaterial":5.25e-7,"FEM Isotrop":6.0e-7,"FEM Metamaterial":6.0e-7},
{"f":7494,"EFEM Isotrop":4.57e-7,"EFEM Metamaterial":4.57e-7,"FEM Isotrop":5.0e-7,"FEM Metamaterial":5.0e-7},
{"f":7530,"EFEM Isotrop":3.16e-7,"EFEM Metamaterial":3.16e-7,"FEM Isotrop":3.16e-7,"FEM Metamaterial":3.16e-7},
{"f":7552,"EFEM Isotrop":3.16e-7,"EFEM Metamaterial":3.16e-7,"FEM Isotrop":3.16e-7,"FEM Metamaterial":3.16e-7},
{"f":7590,"EFEM Isotrop":3.8e-7,"EFEM Metamaterial":3.8e-7,"FEM Isotrop":3.8e-7,"FEM Metamaterial":3.8e-7},
{"f":7620,"EFEM Isotrop":3.98e-7,"EFEM Metamaterial":3.98e-7,"FEM Isotrop":3.98e-7,"FEM Metamaterial":3.98e-7},
{"f":7660,"EFEM Isotrop":3.55e-7,"EFEM Metamaterial":3.55e-7,"FEM Isotrop":3.55e-7,"FEM Metamaterial":3.55e-7},
{"f":7700,"EFEM Isotrop":4.47e-7,"EFEM Metamaterial":4.47e-7,"FEM Isotrop":4.47e-7,"FEM Metamaterial":4.47e-7},
{"f":7740,"EFEM Isotrop":5.0e-7,"EFEM Metamaterial":5.0e-7,"FEM Isotrop":5.0e-7,"FEM Metamaterial":5.0e-7},
{"f":7780,"EFEM Isotrop":4.47e-7,"EFEM Metamaterial":4.47e-7,"FEM Isotrop":4.47e-7,"FEM Metamaterial":4.47e-7},
{"f":7820,"EFEM Isotrop":3.16e-7,"EFEM Metamaterial":3.16e-7,"FEM Isotrop":3.16e-7,"FEM Metamaterial":3.16e-7},
{"f":7860,"EFEM Isotrop":3.55e-7,"EFEM Metamaterial":3.55e-7,"FEM Isotrop":3.55e-7,"FEM Metamaterial":3.55e-7},
{"f":7900,"EFEM Isotrop":3.98e-7,"EFEM Metamaterial":3.98e-7,"FEM Isotrop":3.98e-7,"FEM Metamaterial":3.98e-7},
{"f":7954,"EFEM Isotrop":3.55e-7,"EFEM Metamaterial":3.55e-7,"FEM Isotrop":3.55e-7,"FEM Metamaterial":3.55e-7},
{"f":7990,"EFEM Isotrop":3.02e-7,"EFEM Metamaterial":3.02e-7,"FEM Isotrop":3.02e-7,"FEM Metamaterial":3.02e-7},
{"f":8034,"EFEM Isotrop":2.34e-7,"EFEM Metamaterial":2.34e-7,"FEM Isotrop":2.34e-7,"FEM Metamaterial":2.34e-7},
{"f":8070,"EFEM Isotrop":2.82e-7,"EFEM Metamaterial":2.82e-7,"FEM Isotrop":2.82e-7,"FEM Metamaterial":2.82e-7},
{"f":8110,"EFEM Isotrop":3.16e-7,"EFEM Metamaterial":3.16e-7,"FEM Isotrop":3.16e-7,"FEM Metamaterial":3.16e-7},
{"f":8150,"EFEM Isotrop":3.31e-7,"EFEM Metamaterial":3.31e-7,"FEM Isotrop":3.31e-7,"FEM Metamaterial":3.31e-7},
{"f":8184,"EFEM Isotrop":3.31e-7,"EFEM Metamaterial":3.31e-7,"FEM Isotrop":3.31e-7,"FEM Metamaterial":3.31e-7},
{"f":8220,"EFEM Isotrop":2.82e-7,"EFEM Metamaterial":2.82e-7,"FEM Isotrop":2.82e-7,"FEM Metamaterial":2.82e-7},
{"f":8260,"EFEM Isotrop":2.51e-7,"EFEM Metamaterial":2.51e-7,"FEM Isotrop":2.51e-7,"FEM Metamaterial":2.51e-7},
{"f":8300,"EFEM Isotrop":2.4e-7,"EFEM Metamaterial":2.4e-7,"FEM Isotrop":2.4e-7,"FEM Metamaterial":2.4e-7},
{"f":8340,"EFEM Isotrop":2.24e-7,"EFEM Metamaterial":2.24e-7,"FEM Isotrop":2.24e-7,"FEM Metamaterial":2.24e-7},
{"f":8380,"EFEM Isotrop":2.09e-7,"EFEM Metamaterial":2.09e-7,"FEM Isotrop":2.09e-7,"FEM Metamaterial":2.09e-7},
{"f":8414,"EFEM Isotrop":1.9e-7,"EFEM Metamaterial":1.9e-7,"FEM Isotrop":1.9e-7,"FEM Metamaterial":1.9e-7},
{"f":8450,"EFEM Isotrop":1.41e-7,"EFEM Metamaterial":1.41e-7,"FEM Isotrop":1.41e-7,"FEM Metamaterial":1.41e-7},
{"f":8483,"EFEM Isotrop":1.17e-7,"EFEM Metamaterial":1.17e-7,"FEM Isotrop":1.12e-7,"FEM Metamaterial":1.12e-7},
{"f":8520,"EFEM Isotrop":1.58e-7,"EFEM Metamaterial":1.58e-7,"FEM Isotrop":1.58e-7,"FEM Metamaterial":1.58e-7},
{"f":8550,"EFEM Isotrop":2.0e-7,"EFEM Metamaterial":2.0e-7,"FEM Isotrop":2.0e-7,"FEM Metamaterial":2.0e-7},
{"f":8590,"EFEM Isotrop":2.34e-7,"EFEM Metamaterial":2.34e-7,"FEM Isotrop":2.34e-7,"FEM Metamaterial":2.34e-7},
{"f":8630,"EFEM Isotrop":2.51e-7,"EFEM Metamaterial":2.51e-7,"FEM Isotrop":2.51e-7,"FEM Metamaterial":2.51e-7},
{"f":8670,"EFEM Isotrop":2.24e-7,"EFEM Metamaterial":2.24e-7,"FEM Isotrop":2.24e-7,"FEM Metamaterial":2.24e-7},
{"f":8710,"EFEM Isotrop":2.51e-7,"EFEM Metamaterial":2.51e-7,"FEM Isotrop":2.51e-7,"FEM Metamaterial":2.51e-7},
{"f":8750,"EFEM Isotrop":2.82e-7,"EFEM Metamaterial":2.82e-7,"FEM Isotrop":2.82e-7,"FEM Metamaterial":2.82e-7},
{"f":8782,"EFEM Isotrop":3.09e-7,"EFEM Metamaterial":3.09e-7,"FEM Isotrop":3.09e-7,"FEM Metamaterial":3.09e-7},
{"f":8820,"EFEM Isotrop":3.31e-7,"EFEM Metamaterial":3.31e-7,"FEM Isotrop":3.31e-7,"FEM Metamaterial":3.31e-7},
{"f":8860,"EFEM Isotrop":3.39e-7,"EFEM Metamaterial":3.39e-7,"FEM Isotrop":3.39e-7,"FEM Metamaterial":3.39e-7},
{"f":8897,"EFEM Isotrop":3.55e-7,"EFEM Metamaterial":3.55e-7,"FEM Isotrop":3.55e-7,"FEM Metamaterial":3.55e-7},
{"f":8940,"EFEM Isotrop":2.82e-7,"EFEM Metamaterial":2.82e-7,"FEM Isotrop":2.82e-7,"FEM Metamaterial":2.82e-7},
{"f":8980,"EFEM Isotrop":3.16e-7,"EFEM Metamaterial":3.16e-7,"FEM Isotrop":3.16e-7,"FEM Metamaterial":3.16e-7},
{"f":9020,"EFEM Isotrop":2.82e-7,"EFEM Metamaterial":2.82e-7,"FEM Isotrop":2.82e-7,"FEM Metamaterial":2.82e-7},
{"f":9060,"EFEM Isotrop":2.51e-7,"EFEM Metamaterial":2.51e-7,"FEM Isotrop":2.51e-7,"FEM Metamaterial":2.51e-7},
{"f":9103,"EFEM Isotrop":2.51e-7,"EFEM Metamaterial":2.51e-7,"FEM Isotrop":2.51e-7,"FEM Metamaterial":2.51e-7},
{"f":9140,"EFEM Isotrop":2.4e-7,"EFEM Metamaterial":2.4e-7,"FEM Isotrop":2.4e-7,"FEM Metamaterial":2.4e-7},
{"f":9180,"EFEM Isotrop":2.34e-7,"EFEM Metamaterial":2.34e-7,"FEM Isotrop":2.34e-7,"FEM Metamaterial":2.34e-7},
{"f":9220,"EFEM Isotrop":2.51e-7,"EFEM Metamaterial":2.51e-7,"FEM Isotrop":2.0e-7,"FEM Metamaterial":2.0e-7},
{"f":9260,"EFEM Isotrop":2.4e-7,"EFEM Metamaterial":2.4e-7,"FEM Isotrop":1.26e-7,"FEM Metamaterial":1.26e-7},
{"f":9300,"EFEM Isotrop":2.82e-7,"EFEM Metamaterial":2.82e-7,"FEM Isotrop":1.41e-7,"FEM Metamaterial":1.41e-7},
{"f":9340,"EFEM Isotrop":3.55e-7,"EFEM Metamaterial":3.55e-7,"FEM Isotrop":2.24e-7,"FEM Metamaterial":2.24e-7},
{"f":9391,"EFEM Isotrop":4.07e-7,"EFEM Metamaterial":4.07e-7,"FEM Isotrop":3.02e-7,"FEM Metamaterial":3.02e-7},
{"f":9430,"EFEM Isotrop":3.16e-7,"EFEM Metamaterial":3.16e-7,"FEM Isotrop":3.55e-7,"FEM Metamaterial":3.55e-7},
{"f":9470,"EFEM Isotrop":2.51e-7,"EFEM Metamaterial":2.51e-7,"FEM Isotrop":3.02e-7,"FEM Metamaterial":3.02e-7},
{"f":9500,"EFEM Isotrop":2.63e-7,"EFEM Metamaterial":2.63e-7,"FEM Isotrop":2.63e-7,"FEM Metamaterial":2.63e-7},
{"f":9540,"EFEM Isotrop":3.02e-7,"EFEM Metamaterial":3.02e-7,"FEM Isotrop":3.02e-7,"FEM Metamaterial":3.02e-7},
{"f":9580,"EFEM Isotrop":2.82e-7,"EFEM Metamaterial":2.82e-7,"FEM Isotrop":2.82e-7,"FEM Metamaterial":2.82e-7},
{"f":9620,"EFEM Isotrop":3.31e-7,"EFEM Metamaterial":3.31e-7,"FEM Isotrop":3.31e-7,"FEM Metamaterial":3.31e-7},
{"f":9655,"EFEM Isotrop":3.8e-7,"EFEM Metamaterial":3.8e-7,"FEM Isotrop":3.8e-7,"FEM Metamaterial":3.8e-7},
{"f":9690,"EFEM Isotrop":3.39e-7,"EFEM Metamaterial":3.39e-7,"FEM Isotrop":3.39e-7,"FEM Metamaterial":3.39e-7},
{"f":9730,"EFEM Isotrop":2.82e-7,"EFEM Metamaterial":2.82e-7,"FEM Isotrop":2.82e-7,"FEM Metamaterial":2.82e-7},
{"f":9770,"EFEM Isotrop":3.02e-7,"EFEM Metamaterial":3.02e-7,"FEM Isotrop":3.02e-7,"FEM Metamaterial":3.02e-7},
{"f":9810,"EFEM Isotrop":2.63e-7,"EFEM Metamaterial":2.63e-7,"FEM Isotrop":2.63e-7,"FEM Metamaterial":2.63e-7},
{"f":9850,"EFEM Isotrop":2.24e-7,"EFEM Metamaterial":2.24e-7,"FEM Isotrop":2.24e-7,"FEM Metamaterial":2.24e-7},
{"f":9908,"EFEM Isotrop":1.9e-7,"EFEM Metamaterial":1.9e-7,"FEM Isotrop":1.9e-7,"FEM Metamaterial":1.9e-7},
{"f":9950,"EFEM Isotrop":2.24e-7,"EFEM Metamaterial":2.24e-7,"FEM Isotrop":2.24e-7,"FEM Metamaterial":2.24e-7},
{"f":10000,"EFEM Isotrop":2.95e-7,"EFEM Metamaterial":2.95e-7,"FEM Isotrop":2.95e-7,"FEM Metamaterial":2.95e-7}
]},
"resolve": {"axis": {"x": "independent", "y": "independent"}},
"layer": [
  {
    "transform": [{"fold": ["EFEM Isotrop", "EFEM Metamaterial", "FEM Isotrop", "FEM Metamaterial"], "as": ["serie", "E"]}],
    "mark": {"type": "line", "strokeWidth": 2.5, "clip": true},
    "encoding": {
      "x": {"field": "f", "type": "quantitative", "scale": {"domain": [20, 10000], "nice": false, "zero": false},
        "axis": {"orient": "bottom", "values": [1000, 2000, 3000, 4000, 5000, 6000, 7000, 8000, 9000, 10000], "format": "d", "title": "Frequenz [Hz]", "grid": true, "gridColor": "#dddddd", "gridWidth": 1, "ticks": false, "labelPadding": 15, "domainWidth": 1, "titlePadding": 8, "labelFlush": false, "labelOverlap": false}},
      "y": {"field": "E", "type": "quantitative", "scale": {"type": "log", "domain": [1e-14, 1e-2], "nice": false},
        "axis": {"orient": "left", "values": [1e-8, 1e-6, 1e-4, 1e-2], "labelExpr": "'10'", "grid": false, "ticks": false, "labelPadding": 28, "labelOverlap": false, "labelFlush": false, "domainWidth": 1, "title": "Energiedichte [J/m²]", "titleX": -87, "titleY": 322, "titleBaseline": "alphabetic", "titleAngle": 270}},
      "color": {"field": "serie", "type": "nominal",
        "scale": {"domain": ["EFEM Isotrop", "EFEM Metamaterial", "FEM Isotrop", "FEM Metamaterial"], "range": ["#ff0000", "#0000ff", "#ff0000", "#0000ff"]},
        "legend": {"orient": "none", "legendX": 22, "legendY": 526, "title": null, "symbolType": "stroke", "symbolSize": 6241, "symbolStrokeWidth": 2, "labelFontSize": 24, "labelColor": "#000000", "labelFont": "Liberation Sans", "fillColor": "white", "strokeColor": "#262626", "padding": 8, "rowPadding": 10, "labelOffset": 5, "clipHeight": 24, "labelLimit": 400}},
      "strokeDash": {"field": "serie", "type": "nominal",
        "scale": {"domain": ["EFEM Isotrop", "EFEM Metamaterial", "FEM Isotrop", "FEM Metamaterial"], "range": [[1, 0], [1, 0], [7, 4], [4, 4, 3, 0]]}}
    }
  },
  {
    "mark": {"type": "line", "opacity": 0},
    "encoding": {
      "x": {"field": "f", "type": "quantitative", "scale": {"domain": [20, 10000], "nice": false, "zero": false},
        "axis": {"orient": "bottom", "values": [200, 400, 600, 800, 1200, 1400, 1600, 1800, 2200, 2400, 2600, 2800, 3200, 3400, 3600, 3800, 4200, 4400, 4600, 4800, 5200, 5400, 5600, 5800, 6200, 6400, 6600, 6800, 7200, 7400, 7600, 7800, 8200, 8400, 8600, 8800, 9200, 9400, 9600, 9800], "labels": false, "ticks": false, "domain": false, "title": null, "grid": true, "gridColor": "#c8c8c8", "gridDash": [1, 2], "gridWidth": 1}},
      "y": {"field": "EFEM Metamaterial", "type": "quantitative", "scale": {"type": "log", "domain": [1e-14, 1e-2], "nice": false},
        "axis": {"orient": "left", "values": [1e-14, 1e-12, 1e-10, 1e-8, 1e-6, 1e-4, 1e-2], "labelExpr": "'' + round(log(datum.value) / LN10)", "labelFontSize": 18, "labelAlign": "right", "labelPadding": 12, "labelOffset": -10, "labelOverlap": false, "labelFlush": false, "ticks": false, "domain": false, "grid": false, "title": null}}
    }
  },
  {
    "mark": {"type": "line", "opacity": 0},
    "encoding": {
      "x": {"field": "f", "type": "quantitative", "scale": {"domain": [20, 10000], "nice": false, "zero": false},
        "axis": {"orient": "bottom", "values": [1000, 2000, 3000, 4000, 5000, 6000, 7000, 8000, 9000, 10000], "labels": false, "ticks": true, "tickSize": -8, "tickColor": "#262626", "domain": false, "grid": false, "title": null}},
      "y": {"field": "EFEM Metamaterial", "type": "quantitative", "scale": {"type": "log", "domain": [1e-14, 1e-2], "nice": false},
        "axis": {"orient": "left", "values": [2e-14,3e-14,4e-14,5e-14,6e-14,7e-14,8e-14,9e-14,2e-13,3e-13,4e-13,5e-13,6e-13,7e-13,8e-13,9e-13,2e-12,3e-12,4e-12,5e-12,6e-12,7e-12,8e-12,9e-12,2e-11,3e-11,4e-11,5e-11,6e-11,7e-11,8e-11,9e-11,2e-10,3e-10,4e-10,5e-10,6e-10,7e-10,8e-10,9e-10,2e-9,3e-9,4e-9,5e-9,6e-9,7e-9,8e-9,9e-9,2e-8,3e-8,4e-8,5e-8,6e-8,7e-8,8e-8,9e-8,2e-7,3e-7,4e-7,5e-7,6e-7,7e-7,8e-7,9e-7,2e-6,3e-6,4e-6,5e-6,6e-6,7e-6,8e-6,9e-6,2e-5,3e-5,4e-5,5e-5,6e-5,7e-5,8e-5,9e-5,2e-4,3e-4,4e-4,5e-4,6e-4,7e-4,8e-4,9e-4,2e-3,3e-3,4e-3,5e-3,6e-3,7e-3,8e-3,9e-3], "labels": false, "ticks": true, "tickSize": -4, "tickColor": "#262626", "domain": false, "grid": true, "gridColor": "#c8c8c8", "gridDash": [1, 2], "gridWidth": 1, "title": null}}
    }
  },
  {
    "mark": {"type": "line", "opacity": 0},
    "encoding": {
      "x": {"field": "f", "type": "quantitative", "scale": {"domain": [20, 10000], "nice": false, "zero": false}, "axis": null},
      "y": {"field": "EFEM Metamaterial", "type": "quantitative", "scale": {"type": "log", "domain": [1e-14, 1e-2], "nice": false},
        "axis": {"orient": "left", "values": [1e-14, 1e-13, 1e-12, 1e-11, 1e-10, 1e-9, 1e-8, 1e-7, 1e-6, 1e-5, 1e-4, 1e-3, 1e-2], "labels": false, "ticks": true, "tickSize": -8, "tickColor": "#262626", "domain": false, "grid": true, "gridColor": "#dddddd", "gridWidth": 1, "title": null}}
    }
  },
  {
    "mark": {"type": "line", "opacity": 0},
    "encoding": {
      "x": {"field": "f", "type": "quantitative", "scale": {"domain": [20, 10000], "nice": false, "zero": false}, "axis": null},
      "y": {"field": "EFEM Metamaterial", "type": "quantitative", "scale": {"type": "log", "domain": [1e-14, 1e-2], "nice": false},
        "axis": {"orient": "left", "values": [1e-14, 1e-12, 1e-10], "labelExpr": "'10'", "labelPadding": 38, "labelOverlap": false, "labelFlush": false, "ticks": false, "domain": false, "grid": false, "title": null}}
    }
  }
]
}
